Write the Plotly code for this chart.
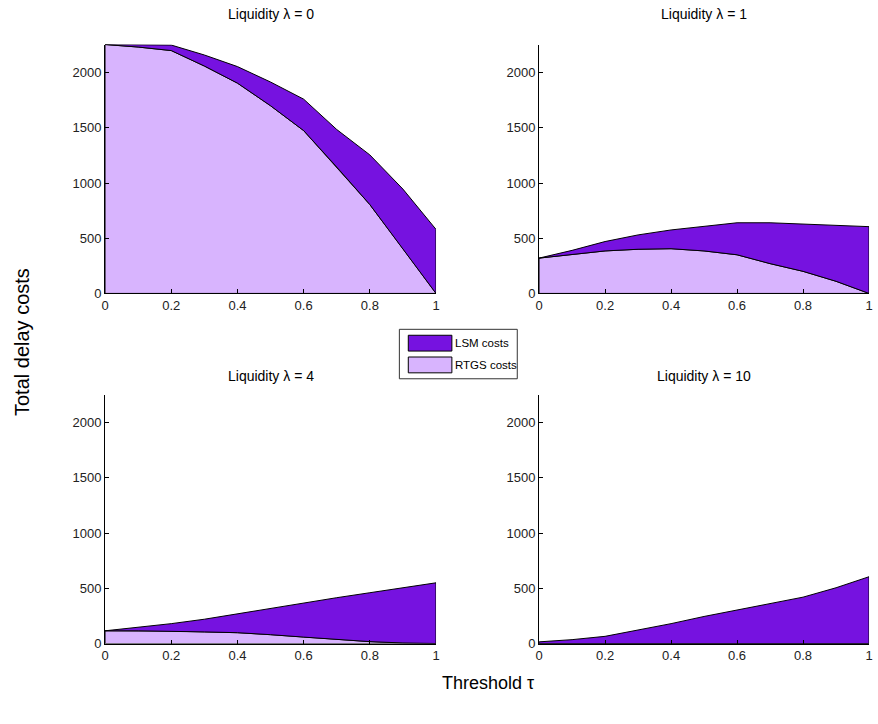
import numpy as np
import plotly.graph_objects as go

# ---------------- data ----------------
tau = [0.0, 0.1, 0.2, 0.3, 0.4, 0.5, 0.6, 0.7, 0.8, 0.9, 1.0]
x_tick_vals = [0, 0.2, 0.4, 0.6, 0.8, 1]
x_tick_text = ["0", "0.2", "0.4", "0.6", "0.8", "1"]
y_tick_vals = [0, 500, 1000, 1500, 2000]
panel_titles = ["Liquidity λ = 0", "Liquidity λ = 1", "Liquidity λ = 4", "Liquidity λ = 10"]
series_names = ["LSM costs", "RTGS costs"]

rtgs_l0 = [2255, 2232, 2200, 2060, 1905, 1700, 1475, 1145, 805, 405, 0]
lsm_l0 = [0, 22, 50, 100, 150, 215, 285, 340, 450, 540, 580]

rtgs_l1 = [320, 350, 385, 400, 405, 385, 350, 270, 200, 110, 0]
lsm_l1 = [0, 40, 85, 130, 170, 220, 290, 370, 430, 505, 605]

rtgs_l4 = [115, 115, 112, 105, 98, 80, 58, 35, 17, 5, 0]
lsm_l4 = [0, 30, 68, 115, 172, 235, 307, 380, 443, 500, 550]

rtgs_l10 = [0, 0, 0, 0, 0, 0, 0, 0, 0, 0, 0]
lsm_l10 = [15, 35, 65, 120, 180, 245, 305, 360, 420, 505, 605]

panels = [(rtgs_l0, lsm_l0), (rtgs_l1, lsm_l1), (rtgs_l4, lsm_l4), (rtgs_l10, lsm_l10)]

# ---------------- style ----------------
W, H = 878, 724
LSM_COLOR = "rgb(118,18,224)"
RTGS_COLOR = "rgb(216,180,254)"
FONT = "Liberation Sans Narrow, Arial Narrow, Liberation Sans, Arial, sans-serif"
YMAX = 2255


def px_x(p):
    return p / W


def px_y(p):
    return (H - p) / H


# axis pixel boxes (left, right, top, bottom)
boxes = [(102, 436, 45, 296.7), (540, 873, 45, 296.7),
         (102, 436, 399, 650.7), (540, 873, 399, 650.7)]

fig = go.Figure()

for i, ((rtgs, lsm), box) in enumerate(zip(panels, boxes)):
    sfx = "" if i == 0 else str(i + 1)
    t = np.array(tau)
    r = np.array(rtgs, dtype=float)
    top = r + np.array(lsm, dtype=float)
    zero = np.zeros_like(r)
    # RTGS polygon (bottom layer)
    fig.add_trace(go.Scatter(
        x=np.concatenate([t, t[::-1], t[:1]]),
        y=np.concatenate([r, zero[::-1], r[:1]]),
        fill="toself", fillcolor=RTGS_COLOR, mode="lines",
        line=dict(color="black", width=1), name=series_names[1],
        showlegend=False, hoverinfo="skip",
        xaxis="x" + sfx, yaxis="y" + sfx))
    # LSM polygon (stacked on top)
    fig.add_trace(go.Scatter(
        x=np.concatenate([t, t[::-1], t[:1]]),
        y=np.concatenate([top, r[::-1], top[:1]]),
        fill="toself", fillcolor=LSM_COLOR, mode="lines",
        line=dict(color="black", width=1), name=series_names[0],
        showlegend=False, hoverinfo="skip",
        xaxis="x" + sfx, yaxis="y" + sfx))

    l, rgt, tp, bt = box
    common = dict(showline=True, linecolor="black", linewidth=1, mirror=False,
                  ticks="inside", ticklen=4, tickcolor="black", showgrid=False,
                  zeroline=False, ticklabeloverflow="allow",
                  tickfont=dict(family=FONT, size=13, color="#222"))
    fig.layout["xaxis" + sfx] = dict(
        domain=[px_x(l), px_x(rgt)], anchor="y" + sfx, range=[0, 1],
        tickvals=x_tick_vals, ticktext=x_tick_text, **common)
    fig.layout["yaxis" + sfx] = dict(
        domain=[px_y(bt), px_y(tp)], anchor="x" + sfx, range=[0, YMAX],
        tickvals=y_tick_vals, ticktext=[str(v) for v in y_tick_vals], **common)

annotations = []
title_y = [14, 14, 380, 380]
for i, box in enumerate(boxes):
    l, rgt, tp, bt = box
    annotations.append(dict(
        text=panel_titles[i], x=px_x((l + rgt) / 2), y=px_y(title_y[i]),
        xref="paper", yref="paper", xanchor="center", yanchor="middle",
        showarrow=False, font=dict(family=FONT, size=14, color="black")))

annotations.append(dict(
    text="Total delay costs", x=px_x(18), y=px_y(346), xref="paper", yref="paper",
    xanchor="center", yanchor="middle", textangle=-90, showarrow=False,
    font=dict(family="Liberation Sans, Arial, sans-serif", size=20, color="black")))
annotations.append(dict(
    text="Threshold τ", x=px_x(488), y=px_y(691), xref="paper", yref="paper",
    xanchor="center", yanchor="middle", showarrow=False,
    font=dict(family=FONT, size=18, color="black")))

# legend (drawn in paper coords)
shapes = [
    dict(type="rect", xref="paper", yref="paper", x0=px_x(399), x1=px_x(518),
         y0=px_y(383), y1=px_y(333), line=dict(color="#333", width=1),
         fillcolor="white", layer="above"),
    dict(type="rect", xref="paper", yref="paper", x0=px_x(408), x1=px_x(452),
         y0=px_y(355), y1=px_y(339), line=dict(color="black", width=1),
         fillcolor=LSM_COLOR, layer="above"),
    dict(type="rect", xref="paper", yref="paper", x0=px_x(408), x1=px_x(452),
         y0=px_y(377), y1=px_y(361), line=dict(color="black", width=1),
         fillcolor=RTGS_COLOR, layer="above"),
]
for name, yy in zip(series_names, [347, 369]):
    annotations.append(dict(
        text=name, x=px_x(453), y=px_y(yy), xref="paper", yref="paper",
        xanchor="left", yanchor="middle", showarrow=False,
        font=dict(family=FONT, size=11.5, color="black")))

fig.update_layout(
    width=W, height=H, margin=dict(l=0, r=0, t=0, b=0),
    paper_bgcolor="white", plot_bgcolor="white",
    showlegend=False, annotations=annotations, shapes=shapes)

fig.write_html("out.html", config={"displayModeBar": False},
               post_script="document.body.style.margin='0px';document.body.style.padding='0px';")
